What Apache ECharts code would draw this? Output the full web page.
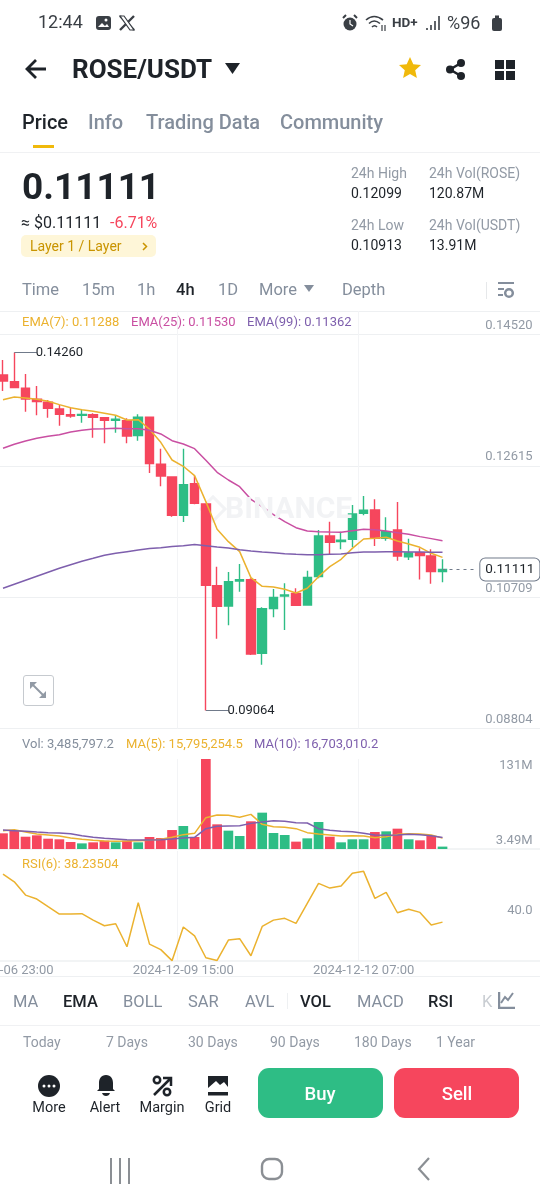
<!DOCTYPE html>
<html>
<head>
<meta charset="utf-8">
<title>ROSE/USDT</title>
<script src="https://cdn.jsdelivr.net/npm/echarts@6/dist/echarts.min.js"></script>
<style>
  html, body { margin: 0; padding: 0; background: #fff; }
  body { width: 540px; height: 1200px; position: relative; overflow: hidden; font-family: Roboto, sans-serif; }
  #chart { position: absolute; left: 0; top: 0; width: 540px; height: 1200px; z-index: 2; }
  .t { position: absolute; white-space: nowrap; transform: translateY(-50%); line-height: 1; z-index: 3; }
  .c { transform: translate(-50%, -50%); }
  .b { position: absolute; z-index: 1; }
  svg { position: absolute; z-index: 3; }
</style>
</head>
<body>
<div id="chart"></div>
<script>
// 价格数据 (4h K线)
var startTime = Date.UTC(2024, 11, 6, 23);
var opens = [0.13935,0.13839,0.13742,0.13582,0.13539,0.13442,0.13360,0.13350,0.13360,0.13316,0.13277,0.13272,0.13055,0.13321,0.12639,0.12455,0.11900,0.12358,0.12063,0.10877,0.10582,0.10945,0.10965,0.09895,0.10544,0.10727,0.10766,0.10597,0.11008,0.11598,0.11516,0.11550,0.11927,0.11976,0.11565,0.11686,0.11298,0.11356,0.11308,0.11081];
var closes = [0.13848,0.13752,0.13587,0.13548,0.13452,0.13364,0.13340,0.13364,0.13321,0.13277,0.13292,0.13050,0.13321,0.12648,0.12469,0.11898,0.12343,0.12072,0.10882,0.10577,0.10935,0.10965,0.09885,0.10544,0.10708,0.10742,0.10592,0.10998,0.11598,0.11506,0.11536,0.11918,0.11971,0.11565,0.11661,0.11308,0.11352,0.11313,0.11081,0.11111];
var lows = [0.13703,0.13752,0.13403,0.13350,0.13316,0.13200,0.13316,0.13243,0.13026,0.12943,0.13098,0.12943,0.12982,0.12513,0.12319,0.11879,0.11802,0.12058,0.09064,0.10108,0.10302,0.10790,0.09871,0.09731,0.10418,0.10234,0.10587,0.10597,0.10984,0.11337,0.11405,0.11434,0.11898,0.11453,0.11531,0.11240,0.11250,0.10965,0.10906,0.10928];
var highs = [0.14153,0.14260,0.13950,0.13776,0.13573,0.13500,0.13466,0.13437,0.13379,0.13316,0.13355,0.13306,0.13364,0.13321,0.12866,0.12455,0.12866,0.12474,0.12063,0.11153,0.11076,0.11192,0.10984,0.10563,0.10829,0.10911,0.10839,0.11095,0.11686,0.11806,0.11661,0.12048,0.12179,0.12131,0.11869,0.12092,0.11560,0.11419,0.11405,0.11260];
var ema7 = [0.13577,0.13616,0.13602,0.13582,0.13553,0.13505,0.13461,0.13432,0.13408,0.13379,0.13350,0.13282,0.13287,0.13147,0.12958,0.12701,0.12610,0.12474,0.12097,0.11695,0.11516,0.11371,0.10994,0.10868,0.10858,0.10824,0.10771,0.10839,0.11008,0.11153,0.11260,0.11419,0.11555,0.11565,0.11579,0.11526,0.11482,0.11434,0.11347,0.11288];
var ema25 = [0.12871,0.12929,0.12977,0.13016,0.13045,0.13069,0.13108,0.13132,0.13152,0.13156,0.13161,0.13156,0.13156,0.13132,0.13079,0.12982,0.12934,0.12866,0.12697,0.12522,0.12411,0.12314,0.12130,0.12024,0.11908,0.11806,0.11719,0.11671,0.11661,0.11656,0.11652,0.11676,0.11695,0.11690,0.11671,0.11647,0.11623,0.11589,0.11560,0.11530];
var ema99 = [0.10839,0.10897,0.10955,0.11013,0.11071,0.11129,0.11182,0.11231,0.11274,0.11318,0.11347,0.11371,0.11395,0.11415,0.11429,0.11444,0.11458,0.11473,0.11458,0.11439,0.11424,0.11400,0.11381,0.11366,0.11356,0.11342,0.11332,0.11327,0.11327,0.11332,0.11337,0.11356,0.11366,0.11366,0.11371,0.11371,0.11366,0.11366,0.11361,0.11362];
// 成交量 (M)
var volumes = [22.8,26.7,17.9,19.9,15.0,14.1,10.2,8.2,9.7,12.1,9.7,12.1,9.7,17.5,16.0,27.6,33.5,17.5,131,35.9,26.7,18.9,40.3,52.9,23.3,20.4,10.7,15.5,39.3,17.9,9.7,14.1,14.1,24.7,25.7,29.6,14.1,12.6,18.9,3.49];
var volMa5 = [26.7,28.1,24.7,21.8,20.4,18.9,16.0,14.1,12.6,11.6,11.2,11.6,12.1,12.6,14.1,17.0,20.9,22.8,45.6,49.5,49.0,46.1,50.4,35.9,32.5,31.5,29.6,23.8,21.8,20.4,18.9,19.4,18.9,16.5,17.9,21.3,22.3,21.8,20.4,15.8];
var volMa10 = [27.6,26.7,25.7,24.7,23.8,23.3,22.3,19.4,17.0,15.5,14.6,13.6,13.1,13.1,13.6,14.6,16.0,17.0,29.6,33.0,33.5,34.0,37.3,39.3,41.2,40.3,38.3,37.8,29.6,27.2,25.7,25.2,22.8,20.4,19.9,20.4,21.3,20.9,19.4,16.7];
var rsi6 = [64.9,60.6,53.2,51.0,46.8,42.7,42.7,42.9,39.3,36.2,37.3,24.5,49.0,26.0,22.9,16.8,35.5,30.6,18.4,16.9,28.2,29.0,19.5,35.8,39.3,40.3,37.5,48.6,59.7,57.1,58.2,65.4,66.4,51.4,54.7,43.4,45.3,43.6,36.6,38.2];
// 坐标轴刻度
var priceTicks = [0.08804, 0.10709, 0.12615, 0.14520];
var volTicks = [3.49, 131];
var rsiTicks = [40];
var lastPrice = 0.11111;

var GREEN = '#2EBD85', RED = '#F6465D', GRID = '#EEF0F2', GREY = '#929AA5', DARK = '#1E2329';
var YELLOW = '#EBB22F', PINK = '#C94FA2', PURPLE = '#7E5FAD';

function pad(n) { return (n < 10 ? '0' : '') + n; }
var categories = [];
for (var i = 0; i < 49; i++) {
  var d = new Date(startTime + i * 4 * 3600 * 1000);
  categories.push(d.getUTCFullYear() + '-' + pad(d.getUTCMonth() + 1) + '-' + pad(d.getUTCDate()) + ' ' + pad(d.getUTCHours()) + ':00');
}
var candles = opens.map(function (o, i) { return [o, closes[i], lows[i], highs[i]]; });
var volBars = volumes.map(function (v, i) {
  return { value: v, itemStyle: { color: closes[i] >= opens[i] ? GREEN : RED } };
});
function every16(i) { return i % 16 === 0 && i < 40; }

function xAxis(gridIndex, showLabel) {
  return {
    type: 'category', gridIndex: gridIndex, data: categories, boundaryGap: true,
    axisLine: { show: gridIndex > 0, lineStyle: { color: GRID, width: 1.5 } },
    axisTick: { show: false, alignWithLabel: true, interval: every16 },
    splitLine: { show: true, interval: every16, lineStyle: { color: '#F3F4F6', width: 1 } },
    axisLabel: { show: showLabel, interval: every16, color: GREY, fontSize: 13, margin: 3, hideOverlap: false,
      fontFamily: 'Roboto' }
  };
}
function line(name, data, color, x, y) {
  return { type: 'line', name: name, data: data, xAxisIndex: x, yAxisIndex: y, showSymbol: false,
    lineStyle: { color: color, width: 1.5 }, itemStyle: { color: color }, z: 5 };
}
function pane(top, height) {
  return { left: -2.63, width: 552.2, top: top, height: height, outerBoundsMode: 'none', containLabel: false };
}

var option = {
  animation: false,
  backgroundColor: 'transparent',
  grid: [pane(311, 417.5), pane(759, 90), pane(851, 110)],
  xAxis: [xAxis(0, false), xAxis(1, false), xAxis(2, true)],
  yAxis: [
    { type: 'value', gridIndex: 0, position: 'right', min: 0.08804, max: 0.14864, scale: true,
      axisLine: { show: false }, axisTick: { show: false, customValues: priceTicks },
      splitLine: { show: true, lineStyle: { color: GRID } },
      axisLabel: { inside: true, margin: 17, customValues: priceTicks, color: GREY, fontSize: 13, fontFamily: 'Roboto',
        verticalAlign: 'bottom', lineHeight: 18, formatter: function (v) { return v.toFixed(5); } } },
    { type: 'value', gridIndex: 1, position: 'right', min: 0, max: 131,
      axisLine: { show: false }, axisTick: { show: false, customValues: volTicks }, splitLine: { show: false },
      axisLabel: { inside: true, margin: 17, customValues: volTicks, color: GREY, fontSize: 13, fontFamily: 'Roboto', verticalAlign: 'middle',
        formatter: function (v) { return v > 100 ? '{hi|' + v + 'M}' : '{lo|' + v + 'M}'; },
        rich: { hi: { padding: [14, 0, 0, 0], color: GREY, fontSize: 13 }, lo: { padding: [0, 0, 11, 0], color: GREY, fontSize: 13 } } } },
    { type: 'value', gridIndex: 2, position: 'right', min: 16.6, max: 77.7,
      axisLine: { show: false }, axisTick: { show: false, customValues: rsiTicks }, splitLine: { show: false },
      axisLabel: { inside: true, margin: 17, customValues: rsiTicks, color: GREY, fontSize: 13, fontFamily: 'Roboto',
        verticalAlign: 'bottom', lineHeight: 16, formatter: function (v) { return v.toFixed(1); } } }
  ],
  series: [
    { type: 'candlestick', data: candles, xAxisIndex: 0, yAxisIndex: 0, barWidth: 9,
      itemStyle: { color: GREEN, color0: RED, borderColor: GREEN, borderColor0: RED, borderWidth: 1.4 },
      markLine: {
        silent: true, symbol: 'none', animation: false,
        data: [
          [ { coord: [1, 0.14260], lineStyle: { color: '#707A8A', width: 1, type: 'solid' },
              label: { position: 'end', formatter: '0.14260', color: DARK, fontSize: 13, distance: -1, fontFamily: 'Roboto' } },
            { coord: [3, 0.14260] } ],
          [ { coord: [18, 0.09064], lineStyle: { color: '#707A8A', width: 1, type: 'solid' },
              label: { position: 'end', formatter: '0.09064', color: DARK, fontSize: 13, distance: -1, fontFamily: 'Roboto' } },
            { coord: [20, 0.09064] } ],
          [ { coord: [39, lastPrice], lineStyle: { color: '#707A8A', width: 1, type: [3, 4] },
              label: { position: 'end', formatter: lastPrice.toFixed(5), color: DARK, fontSize: 13.5, distance: 4, fontFamily: 'Roboto',
                backgroundColor: '#fff', borderColor: '#707A8A', borderWidth: 1, borderRadius: 5, padding: [4, 5] } },
            { coord: [42, lastPrice] } ]
        ]
      } },
    line('EMA7', ema7, YELLOW, 0, 0),
    line('EMA25', ema25, PINK, 0, 0),
    line('EMA99', ema99, PURPLE, 0, 0),
    { type: 'bar', data: volBars, xAxisIndex: 1, yAxisIndex: 1, barWidth: 9.7 },
    line('MA5', volMa5, YELLOW, 1, 1),
    line('MA10', volMa10, PURPLE, 1, 1),
    line('RSI6', rsi6, YELLOW, 2, 2)
  ]
};
var myChart = echarts.init(document.getElementById('chart'));
myChart.setOption(option);

// 页面其余文字
function txt(s, x, y, size, color, weight, center) {
  var el = document.createElement('div');
  el.className = 't' + (center ? ' c' : '');
  el.textContent = s;
  el.style.cssText = 'left:' + x + 'px;top:' + y + 'px;font-size:' + size + 'px;color:' + color + ';font-weight:' + (weight || 400);
  document.body.appendChild(el);
}
function box(x, y, w, h, color, radius) {
  var el = document.createElement('div');
  el.className = 'b';
  el.style.cssText = 'left:' + x + 'px;top:' + y + 'px;width:' + w + 'px;height:' + h + 'px;background:' + color + ';border-radius:' + (radius || 0) + 'px';
  document.body.appendChild(el);
  return el;
}
function icon(x, y, w, h, body) {
  var wrap = document.createElement('div');
  wrap.innerHTML = '<svg style="left:' + x + 'px;top:' + y + 'px" width="' + w + '" height="' + h + '" viewBox="0 0 ' + w + ' ' + h + '">' + body + '</svg>';
  document.body.appendChild(wrap);
}

// 状态栏
txt('12:44', 38, 22, 18, '#3A3F45');
txt('%96', 447, 23, 18, '#3A3F45');
icon(95, 15, 17, 16, '<rect x="1" y="1" width="15" height="14" rx="3" fill="#3A3F45"/><path d="M3 12l4-4 3 3 2-2 2 3z" fill="#fff"/><circle cx="11" cy="5" r="1.5" fill="#fff"/>');
icon(118, 14, 18, 18, '<path d="M2 2l14 14M16 2L2 16" stroke="#3A3F45" stroke-width="2.4"/><path d="M2 2h4l10 14h-4z" fill="#fff" stroke="#3A3F45" stroke-width="1.2"/>');
icon(342, 14, 16, 18, '<circle cx="8" cy="10" r="6.5" fill="#3A3F45"/><path d="M8 6v4l3 2" stroke="#fff" stroke-width="1.2" fill="none"/><path d="M1 4l3-3M15 4l-3-3" stroke="#3A3F45" stroke-width="2"/>');
icon(365, 14, 22, 18, '<path d="M1 6q8-7 17 0M4 9.5q5-5 11 0M7 13q2.5-2.5 5 0" stroke="#3A3F45" stroke-width="1.6" fill="none"/><path d="M17 11v6M20 11v6" stroke="#3A3F45" stroke-width="1.2"/>');
txt('HD+', 392, 23, 13.5, '#3A3F45', 700);
icon(425, 14, 16, 18, '<path d="M2 14v2M6 11v5M10 7v9M14 2v14" stroke="#3A3F45" stroke-width="1.6"/>');
icon(491, 15, 13, 17, '<rect x="1" y="3" width="10" height="13" rx="2" fill="#3A3F45"/><rect x="4" y="0.5" width="4" height="3" fill="#3A3F45"/>');

// 顶部
icon(24, 58, 24, 22, '<path d="M22 11H3M12 2l-9 9 9 9" stroke="#1E2329" stroke-width="2.8" fill="none"/>');
txt('ROSE/USDT', 72, 69, 26, DARK, 700);
icon(225, 63, 15, 11, '<path d="M0 0h15l-7.500 11z" fill="#1E2329"/>');
icon(399, 57, 22, 22, '<path d="M11 0l3.300 7.200 7.700 .8-5.800 5.200 1.700 7.800L11 17l-6.900 4 1.700-7.800L0 8l7.700-.8z" fill="#F0B90B"/>');
icon(445, 59, 21, 21, '<path d="M16 4L5 10.500 16 17" stroke="#1E2329" stroke-width="2.500" fill="none"/><circle cx="16" cy="4" r="4" fill="#1E2329"/><circle cx="5" cy="10.500" r="4" fill="#1E2329"/><circle cx="16" cy="17" r="4" fill="#1E2329"/>');
icon(495, 60, 20, 20, '<rect width="9" height="9" fill="#1E2329"/><rect x="11" width="9" height="9" fill="#1E2329"/><rect y="11" width="9" height="9" fill="#1E2329"/><rect x="11" y="11" width="9" height="9" fill="#1E2329"/>');
txt('Price', 22, 122, 20, DARK, 500);
txt('Info', 88, 122, 20, '#848E9C', 500);
txt('Trading Data', 146, 122, 20, '#848E9C', 500);
txt('Community', 280, 122, 20, '#848E9C', 500);
box(33, 145, 21, 3, '#F0B90B');
box(0, 152, 540, 1, '#F0F1F3');

// 价格区
txt('0.11111', 22, 186, 37, DARK, 700);
txt('≈ $0.11111', 21, 223, 16, DARK);
txt('-6.71%', 110, 223, 16, RED);
box(21, 235, 135, 22, '#FEF6D8', 5);
txt('Layer 1 / Layer', 30, 246, 14, '#C99400');
icon(141, 241, 8, 11, '<path d="M2 2l3.500 3.500L2 9" stroke="#C99400" stroke-width="1.500" fill="none"/>');
txt('24h High', 351, 173, 14, GREY);
txt('0.12099', 351, 193, 14, DARK);
txt('24h Low', 351, 225, 14, GREY);
txt('0.10913', 351, 245, 14, DARK);
txt('24h Vol(ROSE)', 429, 173, 14, GREY);
txt('120.87M', 429, 193, 14, DARK);
txt('24h Vol(USDT)', 429, 225, 14, GREY);
txt('13.91M', 429, 245, 14, DARK);

// 周期
txt('Time', 22, 290, 16.5, '#848E9C');
txt('15m', 82, 290, 16.5, '#848E9C');
txt('1h', 137, 290, 16.5, '#848E9C');
txt('4h', 176, 290, 16.5, DARK, 500);
txt('1D', 218, 290, 16.5, '#848E9C');
txt('More', 259, 290, 16.5, '#848E9C');
icon(304, 285, 10, 7, '<path d="M0 0h10L5 7z" fill="#848E9C"/>');
txt('Depth', 342, 290, 16.5, '#848E9C');
box(486, 282, 1, 17, '#E6E8EA');
icon(497, 281, 18, 18, '<path d="M1 2h16M1 8h6M1 14h5" stroke="#848E9C" stroke-width="2"/><circle cx="12" cy="12" r="3.800" fill="none" stroke="#848E9C" stroke-width="2.500"/>');
box(0, 311, 540, 1, '#EEF0F2');

// 图例
txt('EMA(7): 0.11288', 22, 321, 13, YELLOW);
txt('EMA(25): 0.11530', 131, 321, 13, PINK);
txt('EMA(99): 0.11362', 247, 321, 13, PURPLE);
txt('Vol: 3,485,797.2', 22, 743, 13, '#848E9C');
txt('MA(5): 15,795,254.5', 126, 743, 13, YELLOW);
txt('MA(10): 16,703,010.2', 254, 743, 13, PURPLE);
txt('RSI(6): 38.23504', 22, 863, 13, YELLOW);

// 水印
txt('BINANCE', 225, 508, 30, '#F2F3F5', 700);
var logo = box(203, 499, 14, 14, 'transparent');
logo.style.border = '3px solid #F2F3F5';
logo.style.transform = 'rotate(45deg)';

// 放大按钮
var exp = box(23, 675, 29, 29, '#fff', 3);
exp.style.border = '1px solid #C6CACF';
exp.style.zIndex = 3;
icon(29, 681, 18, 18, '<path d="M1 1h7L1 8zM17 17h-7l7-7z" fill="#929AA5"/><path d="M4 4l10 10" stroke="#929AA5" stroke-width="2"/>');

// 指标栏
box(0, 976, 540, 1, '#EEF0F2');
txt('MA', 13, 1002, 16.5, '#848E9C');
txt('EMA', 63, 1002, 16.5, DARK, 500);
txt('BOLL', 123, 1002, 16.5, '#848E9C');
txt('SAR', 188, 1002, 16.5, '#848E9C');
txt('AVL', 245, 1002, 16.5, '#848E9C');
box(287, 993, 1, 16, '#EEF0F2');
txt('VOL', 300, 1002, 16.5, DARK, 500);
txt('MACD', 357, 1002, 16.5, '#848E9C');
txt('RSI', 428, 1002, 16.5, DARK, 500);
txt('K', 482, 1002, 16.5, '#C9CDD2');
icon(498, 992, 17, 17, '<path d="M1 0v16h16" stroke="#848E9C" stroke-width="2.500" fill="none"/><path d="M3 11l4-6 3 3 5-7" stroke="#848E9C" stroke-width="2" fill="none"/>');
box(0, 1025, 540, 1, '#F0F1F3');
txt('Today', 23, 1042, 14, GREY);
txt('7 Days', 106, 1042, 14, GREY);
txt('30 Days', 188, 1042, 14, GREY);
txt('90 Days', 270, 1042, 14, GREY);
txt('180 Days', 354, 1042, 14, GREY);
txt('1 Year', 436, 1042, 14, GREY);

// 底部操作
icon(38, 1075, 22, 22, '<circle cx="11" cy="11" r="11" fill="#1E2329"/><circle cx="6" cy="11" r="1.500" fill="#fff"/><circle cx="11" cy="11" r="1.500" fill="#fff"/><circle cx="16" cy="11" r="1.500" fill="#fff"/>');
icon(96, 1075, 20, 22, '<path d="M10 0c5 0 7 4 7 8v6l2 2H1l2-2V8c0-4 2-8 7-8z" fill="#1E2329"/><path d="M6 18h8q-1 3-4 3t-4-3z" fill="#1E2329"/>');
icon(152, 1075, 21, 22, '<circle cx="5" cy="5" r="3.200" fill="none" stroke="#1E2329" stroke-width="2.500"/><circle cx="15" cy="17" r="3.200" fill="none" stroke="#1E2329" stroke-width="2.500"/><path d="M2 20L18 4M11 3h8v8" stroke="#1E2329" stroke-width="2.500" fill="none"/>');
icon(208, 1075, 20, 21, '<path d="M0 1h20v11l-4-5-4 3-4-4-8 7z" fill="#1E2329"/><rect y="17" width="20" height="3.500" fill="#1E2329"/>');
txt('More', 49, 1108, 14.5, DARK, 400, true);
txt('Alert', 105, 1108, 14.5, DARK, 400, true);
txt('Margin', 162, 1108, 14.5, DARK, 400, true);
txt('Grid', 218, 1108, 14.5, DARK, 400, true);
box(258, 1068, 125, 50, GREEN, 11);
box(394, 1068, 125, 50, RED, 11);
txt('Buy', 320, 1094, 18.5, '#fff', 500, true);
txt('Sell', 457, 1094, 18.5, '#fff', 500, true);

// 导航栏
icon(108, 1157, 24, 28, '<path d="M3 1v26M12 1v26M21 1v26" stroke="#8B8F94" stroke-width="2"/>');
icon(260, 1157, 24, 24, '<rect x="2" y="2" width="20" height="20" rx="7" fill="none" stroke="#8B8F94" stroke-width="2.400"/>');
icon(416, 1156, 16, 26, '<path d="M13 2L3 13l10 11" stroke="#8B8F94" stroke-width="2.200" fill="none"/>');
</script>
</body>
</html>
